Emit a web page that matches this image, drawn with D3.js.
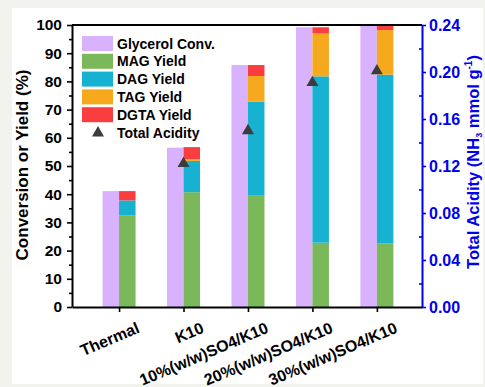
<!DOCTYPE html>
<html>
<head>
<meta charset="utf-8">
<script src="https://cdn.jsdelivr.net/npm/d3@7"></script>
<style>
  body { margin: 0; background: #f2f2ee; }
  svg { display: block; font-family: "Liberation Sans", Arial, sans-serif; font-weight: bold; }
</style>
</head>
<body>
<div id="chart"></div>
<script>
// Data
const categories = ["Thermal", "K10", "10%(w/w)SO4/K10", "20%(w/w)SO4/K10", "30%(w/w)SO4/K10"];
const glycerolConv = [41.1, 56.5, 85.8, 99.2, 100];
const magYield = [32.4, 40.7, 39.7, 22.8, 22.6];
const dagYield = [5.4, 11.1, 33.1, 59.0, 59.8];
const tagYield = [0, 0.6, 9.1, 15.2, 15.8];
const dgtaYield = [3.3, 4.3, 3.9, 2.2, 1.8];
const totalAcidity = [null, 0.122, 0.150, 0.191, 0.201];
const leftTicks = d3.range(0, 101, 10);
const rightTicks = [0, 0.04, 0.08, 0.12, 0.16, 0.20, 0.24];

const colors = {
  conv: "#d9b2fd",
  mag: "#7ab85a",
  dag: "#17b2d2",
  tag: "#f6a91d",
  dgta: "#fa3e3f",
  tri: "#3c3c3c",
  blue: "#0000f0"
};

const W = 485, H = 387;
const mLeft = 72, mRight = 422, mTop = 25, mBottom = 307;
const fontFam = "Liberation Sans, Arial, sans-serif";

const svg = d3.select("#chart").append("svg")
  .attr("width", W)
  .attr("height", H);

// white panel
svg.append("rect")
  .attr("x", 12).attr("y", 8)
  .attr("width", 471).attr("height", 376)
  .attr("fill", "#fff");

const x = d3.scaleLinear().domain([0.27, 5.7]).range([mLeft, mRight]);
const y = d3.scaleLinear().domain([0, 100]).range([mBottom, mTop]);
const y2 = d3.scaleLinear().domain([0, 0.24]).range([mBottom, mTop]);
const barW = (x(2) - x(1)) * 0.256;

// Glycerol conversion bars (left of tick)
svg.append("g").selectAll("rect")
  .data(glycerolConv)
  .join("rect")
  .attr("x", (d, i) => x(i + 1) - barW)
  .attr("y", d => y(d))
  .attr("width", barW)
  .attr("height", d => y(0) - y(d))
  .attr("fill", colors.conv);

// Stacked yields (right of tick)
const rows = categories.map((c, i) => ({
  mag: magYield[i], dag: dagYield[i], tag: tagYield[i], dgta: dgtaYield[i]
}));
const keys = ["mag", "dag", "tag", "dgta"];
const stacked = d3.stack().keys(keys)(rows);

svg.append("g").selectAll("g")
  .data(stacked)
  .join("g")
  .attr("fill", s => colors[s.key])
  .selectAll("rect")
  .data(s => s)
  .join("rect")
  .attr("x", (d, i) => x(i + 1))
  .attr("y", d => y(d[1]))
  .attr("width", barW)
  .attr("height", d => y(d[0]) - y(d[1]));

// Acidity triangles
const tri = d3.symbol().type(d3.symbolTriangle).size(62);
svg.append("g").selectAll("path")
  .data(totalAcidity.map((v, i) => ({ v, i })).filter(d => d.v != null))
  .join("path")
  .attr("d", tri)
  .attr("transform", d => `translate(${x(d.i + 1)},${y2(d.v)})`)
  .attr("fill", colors.tri);

// Left axis
const gl = svg.append("g").attr("transform", `translate(${mLeft},0)`);
gl.call(d3.axisLeft(y).tickValues(d3.range(5, 100, 10)).tickSize(3).tickFormat(""));
gl.select(".domain").remove();
gl.selectAll("line").attr("stroke-width", 1.6);
const glm = svg.append("g").attr("transform", `translate(${mLeft},0)`)
  .call(d3.axisLeft(y).tickValues(leftTicks).tickSize(5).tickPadding(5).tickSizeOuter(0));
glm.selectAll("text").attr("font-size", 15.5).attr("font-weight", "bold")
  .attr("font-family", fontFam).attr("fill", "#000");
glm.selectAll("line").attr("stroke-width", 1.6);
glm.select(".domain").attr("stroke-width", 2);

// Bottom axis
const gb = svg.append("g").attr("transform", `translate(0,${mBottom})`)
  .call(d3.axisBottom(x).tickValues([1, 2, 3, 4, 5]).tickSize(5).tickSizeOuter(0).tickFormat(""));
gb.select(".domain").attr("stroke-width", 2);
gb.selectAll("line").attr("stroke-width", 1.6);

gb.selectAll(".tick").append("text")
  .attr("transform", "translate(21,25) rotate(-23)")
  .attr("text-anchor", "end")
  .attr("fill", "#000")
  .attr("font-size", 16)
  .attr("font-weight", "bold")
  .attr("font-family", fontFam)
  .text((d, i) => categories[i]);

// Top frame
svg.append("line")
  .attr("x1", mLeft).attr("x2", mRight)
  .attr("y1", mTop).attr("y2", mTop)
  .attr("stroke", "#000").attr("stroke-width", 2);

// Right axis (blue)
const gr = svg.append("g").attr("transform", `translate(${mRight},0)`);
gr.call(d3.axisLeft(y2).tickValues(d3.range(0.02, 0.24, 0.04)).tickSize(3).tickFormat(""));
gr.select(".domain").remove();
gr.selectAll("line").attr("stroke", colors.blue).attr("stroke-width", 1.6);
const grm = svg.append("g").attr("transform", `translate(${mRight},0)`)
  .call(d3.axisRight(y2).tickValues(rightTicks).tickSize(4).tickPadding(3).tickSizeOuter(0)
    .tickFormat(d3.format(".2f")));
grm.select(".domain").attr("stroke", colors.blue).attr("stroke-width", 2);
grm.selectAll("line").attr("stroke", colors.blue).attr("stroke-width", 1.6);
grm.selectAll("text").attr("fill", colors.blue).attr("font-size", 16).attr("font-weight", "bold")
  .attr("font-family", fontFam);

// Axis titles
svg.append("text")
  .attr("transform", `translate(28,165) rotate(-90)`)
  .attr("text-anchor", "middle")
  .attr("font-size", 17)
  .attr("fill", "#000")
  .text("Conversion or Yield (%)");

const rt = svg.append("text")
  .attr("transform", `translate(479,162) rotate(-90)`)
  .attr("text-anchor", "middle")
  .attr("font-size", 16.5)
  .attr("fill", colors.blue);
rt.append("tspan").text("Total Acidity (NH");
rt.append("tspan").attr("font-size", 9).attr("dy", 3).text("3");
rt.append("tspan").attr("dy", -3).text(" mmol g");
rt.append("tspan").attr("font-size", 10).attr("dy", -7).text("-1");
rt.append("tspan").attr("dy", 7).text(")");

// Legend
const legendItems = [
  { label: "Glycerol Conv.", color: colors.conv },
  { label: "MAG Yield", color: colors.mag },
  { label: "DAG Yield", color: colors.dag },
  { label: "TAG Yield", color: colors.tag },
  { label: "DGTA Yield", color: colors.dgta },
  { label: "Total Acidity", tri: true }
];
const lg = svg.append("g").attr("transform", "translate(82,36)");
const li = lg.selectAll("g")
  .data(legendItems)
  .join("g")
  .attr("transform", (d, i) => `translate(0,${i * 17.8})`);
li.filter(d => !d.tri).append("rect")
  .attr("width", 31).attr("height", 15)
  .attr("fill", d => d.color);
li.filter(d => d.tri).append("path")
  .attr("d", tri)
  .attr("transform", "translate(16,8)")
  .attr("fill", colors.tri);
li.append("text")
  .attr("x", 35).attr("y", 7.5).attr("dy", "0.36em")
  .attr("font-size", 14)
  .attr("fill", "#000")
  .text(d => d.label);
</script>
</body>
</html>
